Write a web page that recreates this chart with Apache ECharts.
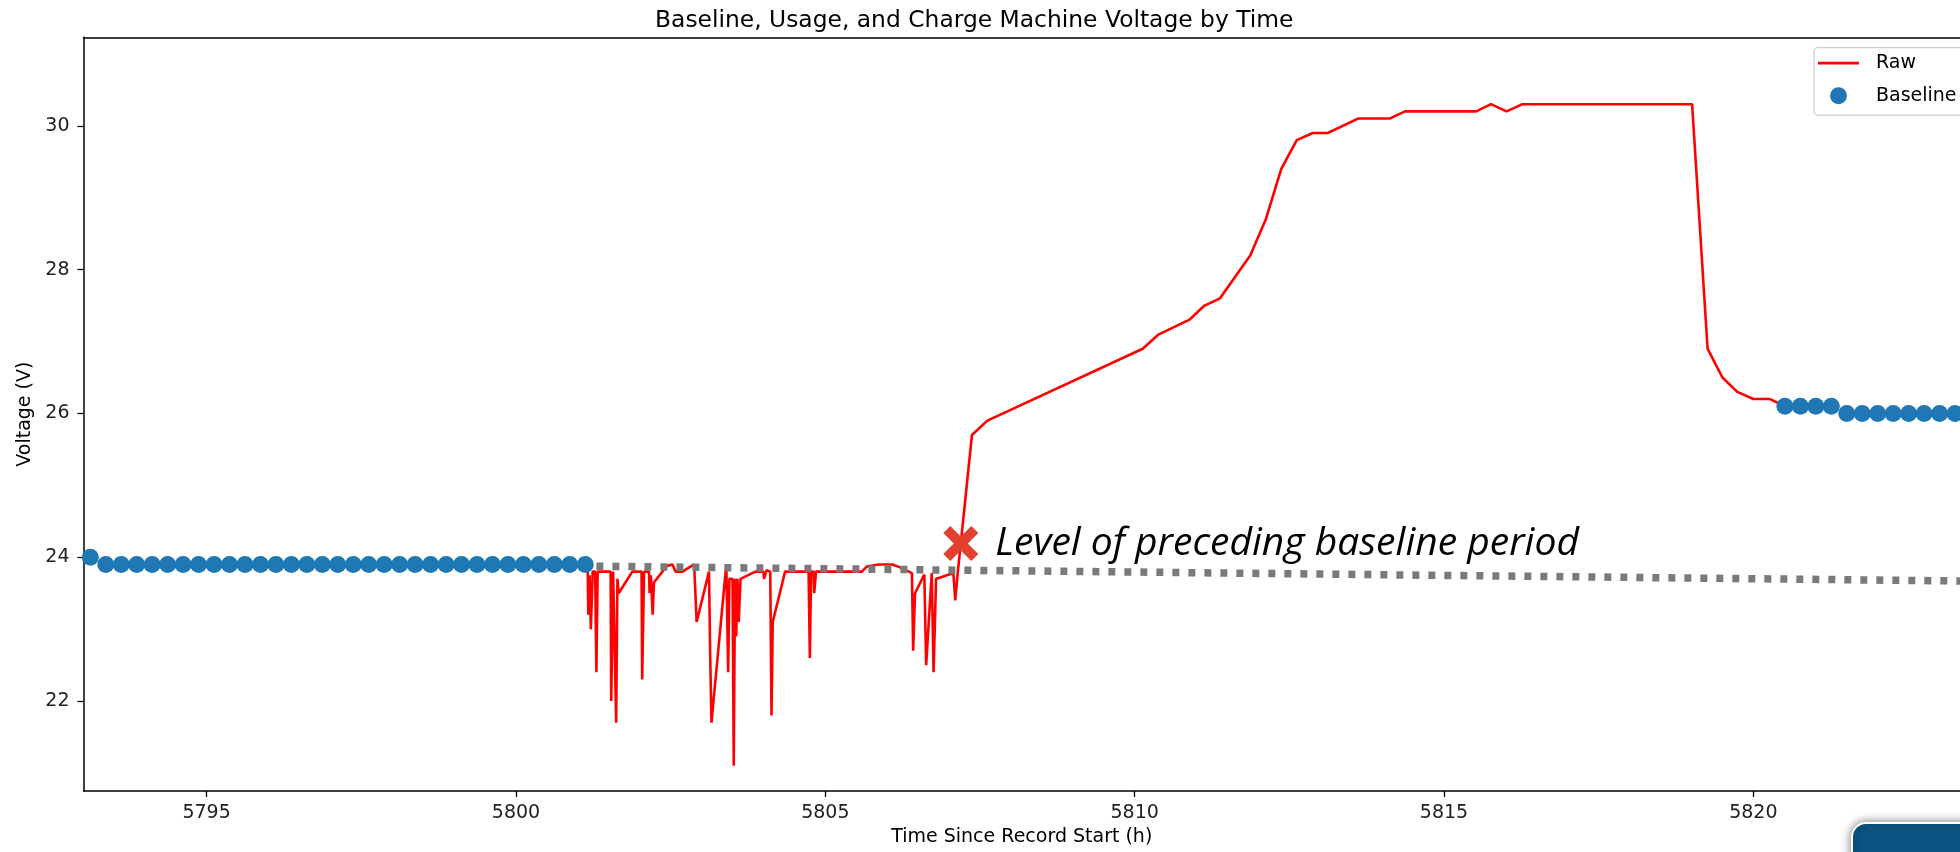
<!DOCTYPE html>
<html lang="en">
  <head>
    <meta charset="UTF-8" />
    <title>Machine Voltage</title>
    <script src="https://cdn.jsdelivr.net/npm/echarts@6.0.0/dist/echarts.min.js"></script>
    <style>
      body { margin: 0; background: #fff; }
    </style>
  </head>
  <body>
    <div id="main" style="width: 1960px; height: 852px"></div>
    <script type="text/javascript">
      // raw voltage readings (time in h, voltage in V)
      const rawTime = [
        5801.14, 5801.16, 5801.17, 5801.19, 5801.21, 5801.24, 5801.28, 5801.3, 5801.32,
        5801.53, 5801.54, 5801.57, 5801.6, 5801.62, 5801.64, 5801.66, 5801.88,
        5802.03, 5802.04, 5802.07, 5802.15, 5802.16, 5802.18, 5802.21, 5802.23,
        5802.44, 5802.53, 5802.58, 5802.69, 5802.88, 5802.92,
        5803.12, 5803.14, 5803.16, 5803.4, 5803.43, 5803.45, 5803.5, 5803.52,
        5803.54, 5803.56, 5803.58, 5803.6, 5803.63, 5803.87,
        5804.0, 5804.01, 5804.05, 5804.11, 5804.13, 5804.15, 5804.35,
        5804.73, 5804.75, 5804.77, 5804.81, 5804.82, 5804.85,
        5805.59, 5805.67, 5805.86, 5806.08, 5806.18, 5806.4, 5806.42, 5806.45,
        5806.6, 5806.63, 5806.72, 5806.75, 5806.79, 5806.86, 5807.07, 5807.1, 5807.14,
        5807.37, 5807.62, 5810.13, 5810.39, 5810.88, 5811.13, 5811.38, 5811.87,
        5812.12, 5812.37, 5812.62, 5812.88, 5813.12, 5813.61, 5814.12, 5814.37,
        5815.52, 5815.76, 5816.01, 5816.27, 5819.01, 5819.26, 5819.5, 5819.74,
        5820.0, 5820.27, 5820.51,
      ];
      const rawVolt = [
        23.9, 23.8, 23.2, 23.75, 23.0, 23.8, 23.8, 22.4, 23.8,
        23.8, 22.0, 23.8, 23.8, 21.7, 23.7, 23.5, 23.8,
        23.8, 22.3, 23.8, 23.8, 23.5, 23.75, 23.2, 23.65,
        23.88, 23.9, 23.8, 23.8, 23.9, 23.1,
        23.8, 22.6, 21.7, 23.9, 22.4, 23.7, 23.7, 21.1,
        23.7, 22.9, 23.7, 23.1, 23.7, 23.8,
        23.8, 23.7, 23.82, 23.8, 21.8, 23.1, 23.8,
        23.8, 22.6, 23.8, 23.8, 23.5, 23.8,
        23.8, 23.87, 23.9, 23.9, 23.87, 23.78, 22.7, 23.5,
        23.76, 22.5, 23.78, 22.4, 23.7, 23.72, 23.78, 23.4, 23.78,
        25.7, 25.9, 26.9, 27.1, 27.3, 27.5, 27.6, 28.2,
        28.7, 29.4, 29.8, 29.9, 29.9, 30.1, 30.1, 30.2,
        30.2, 30.3, 30.2, 30.3, 30.3, 26.9, 26.5, 26.3,
        26.2, 26.2, 26.1,
      ];

      // baseline periods
      const baselineTime = [
        5793.12, 5793.37, 5793.62, 5793.87, 5794.12, 5794.37, 5794.62, 5794.87,
        5795.12, 5795.37, 5795.62, 5795.87, 5796.12, 5796.37, 5796.62, 5796.87,
        5797.12, 5797.37, 5797.62, 5797.87, 5798.12, 5798.37, 5798.62, 5798.87,
        5799.12, 5799.37, 5799.62, 5799.87, 5800.12, 5800.37, 5800.62, 5800.87,
        5801.12,
        5820.51, 5820.76, 5821.01, 5821.26, 5821.51, 5821.76, 5822.01, 5822.26,
        5822.51, 5822.76, 5823.01, 5823.26,
      ];
      const baselineVolt = [
        24.0, 23.9, 23.9, 23.9, 23.9, 23.9, 23.9, 23.9,
        23.9, 23.9, 23.9, 23.9, 23.9, 23.9, 23.9, 23.9,
        23.9, 23.9, 23.9, 23.9, 23.9, 23.9, 23.9, 23.9,
        23.9, 23.9, 23.9, 23.9, 23.9, 23.9, 23.9, 23.9,
        23.9,
        26.1, 26.1, 26.1, 26.1, 26.0, 26.0, 26.0, 26.0,
        26.0, 26.0, 26.0, 26.0,
      ];

      // level of the preceding baseline period, carried forward
      const levelTime = [5801.3, 5823.4];
      const levelVolt = [23.875, 23.67];

      // annotation marker
      const markTime = [5807.19];
      const markVolt = [24.19];
      const markText = "Level of preceding baseline period";

      const xTicks = [5795, 5800, 5805, 5810, 5815, 5820];
      const yTicks = [22, 24, 26, 28, 30];

      const font = "'DejaVu Sans', sans-serif";
      const pairs = (xs, ys) => xs.map((x, i) => [x, ys[i]]);

      const xMin = 5793.01;
      const xMax = 5823.34;

      let options = {
        animation: false,
        backgroundColor: "#ffffff",
        title: {
          text: "Baseline, Usage, and Charge Machine Voltage by Time",
          left: 655,
          top: 9,
          padding: 0,
          textStyle: { fontFamily: font, fontSize: 23.4, fontWeight: "normal", color: "#000" },
        },
        legend: {
          orient: "vertical",
          left: 1814,
          top: 47.7,
          padding: [6, 10, 10, 4],
          itemWidth: 41,
          itemHeight: 17,
          itemGap: 13.5,
          selectedMode: false,
          backgroundColor: "rgba(255,255,255,0.85)",
          borderColor: "#cccccc",
          borderWidth: 1.3,
          borderRadius: 4,
          textStyle: {
            fontFamily: font,
            fontSize: 19,
            color: "#000",
            lineHeight: 17,
            padding: [0, 0, 0, 12],
          },
          data: [
            { name: "Raw", icon: "path://M0,0H40V2.6H0Z" },
            { name: "Baseline", icon: "circle" },
          ],
        },
        grid: { left: 83.5, top: 37.3, bottom: 60.3, right: -4 },
        xAxis: [
          {
            type: "value",
            min: xMin,
            max: xMax,
            name: "Time Since Record Start (h)",
            nameLocation: "middle",
            nameGap: 37,
            nameTextStyle: { fontFamily: font, fontSize: 19, color: "#000" },
            axisLine: { show: true, lineStyle: { color: "#000", width: 1.5 } },
            axisTick: { show: true, length: 6, customValues: xTicks, lineStyle: { color: "#000", width: 1.3 } },
            axisLabel: {
              customValues: xTicks,
              formatter: (v) => String(v),
              margin: 13,
              fontFamily: font,
              fontSize: 19,
              color: "#222",
            },
            splitLine: { show: false },
          },
          {
            type: "value",
            position: "top",
            min: xMin,
            max: xMax,
            axisLine: { show: true, lineStyle: { color: "#000", width: 1.5 } },
            axisTick: { show: false },
            axisLabel: { show: false },
            splitLine: { show: false },
          },
        ],
        yAxis: {
          type: "value",
          min: 20.75,
          max: 31.23,
          name: "Voltage (V)",
          nameLocation: "middle",
          nameGap: 46,
          nameTextStyle: { fontFamily: font, fontSize: 19, color: "#000" },
          axisLine: { show: true, lineStyle: { color: "#000", width: 1.5 } },
          axisTick: { show: true, length: 6, customValues: yTicks, lineStyle: { color: "#000", width: 1.3 } },
          axisLabel: { customValues: yTicks, margin: 14, fontFamily: font, fontSize: 19, color: "#222" },
          splitLine: { show: false },
        },
        series: [
          {
            name: "Raw",
            type: "line",
            data: pairs(rawTime, rawVolt),
            symbol: "none",
            color: "#ff0000",
            lineStyle: { color: "#ff0000", width: 2.6 },
            z: 2,
          },
          {
            name: "Baseline",
            type: "scatter",
            data: pairs(baselineTime, baselineVolt),
            symbolSize: 17,
            itemStyle: { color: "#1f77b4", opacity: 1 },
            z: 3,
          },
          {
            name: "Preceding level",
            type: "line",
            data: pairs(levelTime, levelVolt),
            symbol: "none",
            lineStyle: { color: "#7a7a7a", width: 7.5, type: [7, 9] },
            z: 4,
          },
          {
            name: "Marker",
            type: "scatter",
            data: pairs(markTime, markVolt),
            symbol: "path://M0,4L4,0L10,6L16,0L20,4L14,10L20,16L16,20L10,14L4,20L0,16L6,10Z",
            symbolSize: 35,
            itemStyle: { color: "#e2412f", opacity: 1 },
            label: {
              show: true,
              position: "right",
              distance: 17,
              formatter: markText,
              fontFamily: "'Open Sans', Lato, sans-serif",
              fontStyle: "italic",
              fontSize: 39,
              color: "#000",
            },
            z: 5,
          },
        ],
        graphic: [
          {
            type: "rect",
            left: 1851,
            top: 822,
            shape: { width: 140, height: 60, r: 14 },
            style: {
              fill: "#0b5583",
              stroke: "#ffffff",
              lineWidth: 2,
              shadowBlur: 10,
              shadowColor: "rgba(0,0,0,0.5)",
            },
            z: 10,
          },
        ],
      };

      let myChart = echarts.init(document.getElementById("main"));
      myChart.setOption(options);
    </script>
  </body>
</html>
